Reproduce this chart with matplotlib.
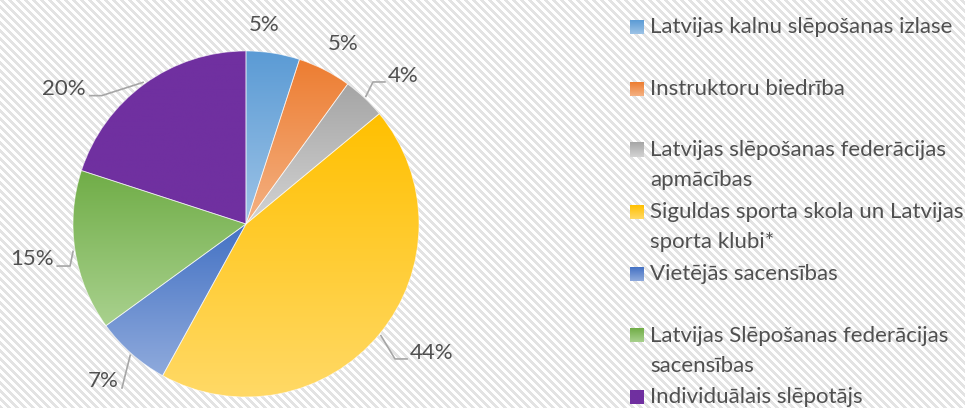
import numpy as np
import matplotlib
matplotlib.use('Agg')
import matplotlib.pyplot as plt
from matplotlib.colors import LinearSegmentedColormap

plt.rcParams['font.family'] = ['Lato', 'DejaVu Sans']

# Data
categories = ['Latvijas kalnu slēpošanas izlase',
              'Instruktoru biedrība',
              'Latvijas slēpošanas federācijas\napmācības',
              'Siguldas sporta skola un Latvijas\nsporta klubi*',
              'Vietējās sacensības',
              'Latvijas Slēpošanas federācijas\nsacensības',
              'Individuālais slēpotājs']
shares = [5, 5, 4, 44, 7, 15, 20]
dark_colors = ['#5B9BD5', '#ED7D31', '#A5A5A5', '#FFC000', '#4472C4', '#70AD47', '#7030A0']
light_colors = ['#9DC3E6', '#F4B183', '#D3D3D3', '#FFD966', '#8FAADC', '#A9D18E', '#7030A0']

# label text positions (pie radius units) and leader bends
LABEL_POS = [(0.104, 1.150), (0.561, 1.040), (0.908, 0.855), (1.075, -0.746),
             (-0.827, -0.908), (-1.237, -0.202), (-1.052, 0.780)]
LEADERS = {2: [(0.734, 0.821), (0.803, 0.821)],
           3: [(0.861, -0.780), (0.931, -0.780)],
           4: [(-0.717, -0.948)],
           5: [(-1.017, -0.243), (-1.091, -0.243)],
           6: [(-0.834, 0.742), (-0.902, 0.742)]}

TEXT_COLOR = '#505050'
FS = 16
W, H = 965, 408

fig = plt.figure(figsize=(W / 100, H / 100), dpi=100)

# striped background
bg = fig.add_axes([0, 0, 1, 1], zorder=-5)
yy, xx = np.mgrid[0:H, 0:W]
stripes = np.where(((xx - yy) % 8) < 4, 0.89, 1.0)
bg.imshow(stripes, cmap='gray', vmin=0, vmax=1, extent=[0, W, H, 0],
          interpolation='nearest', aspect='auto')
bg.set_xlim(0, W)
bg.set_ylim(H, 0)
bg.axis('off')

# pie
cx, cy, R = 246, 224, 173
ax = fig.add_axes([(cx - R) / W, (H - cy - R) / H, 2 * R / W, 2 * R / H])
wedges, _ = ax.pie(shares, startangle=90, counterclock=False, colors=dark_colors,
                   wedgeprops=dict(linewidth=0.6, edgecolor=(1, 1, 1, 0.6)))
grad = np.linspace(0, 1, 256).reshape(-1, 1)
for w, c0, c1 in zip(wedges, light_colors, dark_colors):
    ext = w.get_path().get_extents()
    cmap = LinearSegmentedColormap.from_list('g', [c0, c1])
    im = ax.imshow(grad, cmap=cmap, origin='lower', aspect='auto',
                   extent=[ext.x0, ext.x1, ext.y0, ext.y1], zorder=1)
    im.set_clip_path(w)
    w.set_facecolor('none')
    w.set_zorder(2)
ax.set_xlim(-1, 1)
ax.set_ylim(-1, 1)
ax.axis('off')

total = sum(shares)
for i, (w, val) in enumerate(zip(wedges, shares)):
    mid = np.deg2rad((w.theta1 + w.theta2) / 2)
    tx, ty = LABEL_POS[i]
    ax.text(tx, ty, f'{val / total * 100:.0f}%', ha='center', va='center',
            fontsize=FS, color=TEXT_COLOR, clip_on=False)
    if i in LEADERS:
        pts = [(1.012 * np.cos(mid), 1.012 * np.sin(mid))] + LEADERS[i]
        px, py = zip(*pts)
        ax.plot(px, py, color='#A6A6A6', lw=1.2, clip_on=False, zorder=3)

# legend
lg = fig.add_axes([0, 0, 1, 1], zorder=5)
lg.set_xlim(0, W)
lg.set_ylim(H, 0)
lg.axis('off')
y = 27
for name, c0, c1 in zip(categories, light_colors, dark_colors):
    cmap = LinearSegmentedColormap.from_list('g', [c0, c1])
    lg.imshow(grad, cmap=cmap, origin='lower', aspect='auto',
              extent=[630, 644, y + 7, y - 7])
    for j, line in enumerate(name.split('\n')):
        lg.text(650, y + 30 * j, line, ha='left', va='center', fontsize=FS,
                color=TEXT_COLOR)
    y += 61.7
lg.set_xlim(0, W)
lg.set_ylim(H, 0)

fig.savefig('out.png', dpi=100)
